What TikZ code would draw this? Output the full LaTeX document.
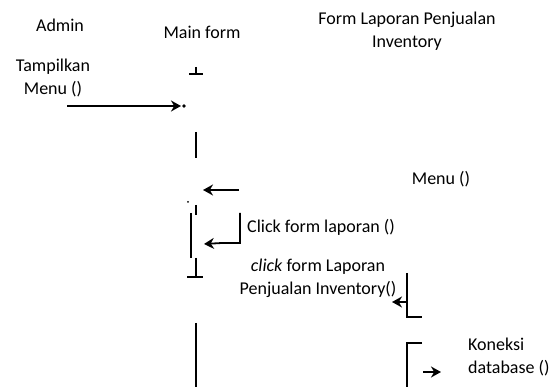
\documentclass[tikz,border=0pt]{standalone}
\usepackage{fontspec}
\setmainfont{Carlito}
\usetikzlibrary{arrows.meta}
\usetikzlibrary{positioning}

\begin{document}
\begin{tikzpicture}[x=1pt,y=-1pt]
\useasboundingbox (0,0) rectangle (555,387);
			\begin{scope}[every node/.style={inner sep=0pt,font=\fontsize{18}{23}\selectfont,align=center}]
    \node (admin) at (60,25) {Admin};
    \node (main) at (202,32) {Main form};
    \node (form) at (407,31) {Form Laporan Penjualan\\Inventory};
    \node (tampil) at (53,78) {Tampilkan\\Menu ()};
    \node (menu) at (441,179) {Menu ()};
    \node[anchor=west] (clickform) at (247,227) {Click form laporan ()};
    \node (clicklap) at (318,278) {\textit{click} form Laporan\\Penjualan Inventory()};
    \node[anchor=west,align=left] (koneksi) at (468,357) {Koneksi\\database ()};
			\end{scope}
    \coordinate (a1) at (67,106);
    \coordinate (m1) at (181,106);
    \coordinate (r2) at (239,190);
    \coordinate (m2) at (203,190);
    \coordinate (s1) at (240,213);
    \coordinate (s2) at (240,243);
    \coordinate (s3) at (204,244);
    \coordinate (f1) at (407,302);
    \coordinate (f2) at (392,302);
    \coordinate (k1) at (423,372);
    \coordinate (k2) at (441,372);
			\begin{scope}[line width=1.8pt,>={Stealth[length=10pt,width=11pt]}]
    \draw (196,67) -- (196,74) (189,74) -- (203,74);
    \draw (196,132) -- (196,158);
    \draw (196,205) -- (196,215);
    \draw (191,213) -- (191,258);
    \draw (196,258) -- (196,277) (187,277) -- (203,277);
    \draw (196,323) -- (196,387);
    \draw (407,273) -- (407,317) -- (422,317);
    \draw (422,343) -- (407,343) -- (407,387);
    \fill (188,202) circle (1pt);
    \fill (184,106) circle (1.8pt);
    \path [->] (a1) edge (m1);
    \path [->] (r2) edge (m2);
    \draw [->] (s1) -- (s2) -- (222,243) -- (s3);
    \draw [->] (407,302) -- (f2);
    \draw [->] (k1) -- (k2);
			\end{scope}
		\end{tikzpicture}
\end{document}
